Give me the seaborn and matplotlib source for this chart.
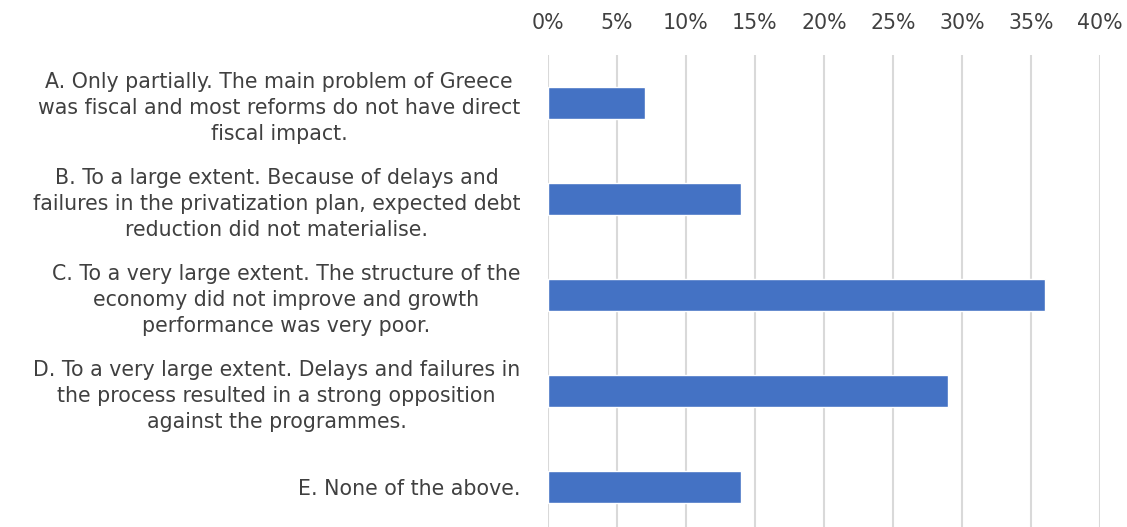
import numpy as np
import pandas as pd
import matplotlib
matplotlib.use("Agg")
import matplotlib.pyplot as plt
import seaborn as sns
from matplotlib.ticker import PercentFormatter

answers = [
    "A. Only partially. The main problem of Greece\nwas fiscal and most reforms do not have direct\nfiscal impact.",
    "B. To a large extent. Because of delays and\nfailures in the privatization plan, expected debt\nreduction did not materialise.",
    "C. To a very large extent. The structure of the\neconomy did not improve and growth\nperformance was very poor.",
    "D. To a very large extent. Delays and failures in\nthe process resulted in a strong opposition\nagainst the programmes.",
    "E. None of the above.",
]
shares = [7, 14, 36, 29, 14]
xticks = [0, 5, 10, 15, 20, 25, 30, 35, 40]

df = pd.DataFrame({"answer": answers, "share": shares})

sns.set_style("white")
plt.rcParams["font.family"] = ["DejaVu Sans"]

fig = plt.figure(figsize=(11.27, 5.27), dpi=100)
ax = fig.add_axes([548 / 1127, -8 / 527, 552 / 1127, 480 / 527])

sns.barplot(data=df, x="share", y="answer", orient="h", color="#4472C4",
            width=0.33, saturation=1, ax=ax, zorder=3)

ax.set_xlim(0, 40)
ax.set_xticks(xticks)
ax.xaxis.set_major_formatter(PercentFormatter(decimals=0))
ax.xaxis.tick_top()
ax.tick_params(axis="x", length=0, pad=16, labelsize=14.8, colors="#404040")
ax.tick_params(axis="y", length=0, pad=20, labelsize=14.8, colors="#404040")
for lab in ax.get_yticklabels():
    lab.set_multialignment("center")
    lab.set_linespacing(1.36)
ax.grid(axis="x", color="#D9D9D9", linewidth=1.5, zorder=0)
ax.set_xlabel("")
ax.set_ylabel("")
for s in ax.spines.values():
    s.set_visible(False)

fig.savefig("out.png", dpi=100)
